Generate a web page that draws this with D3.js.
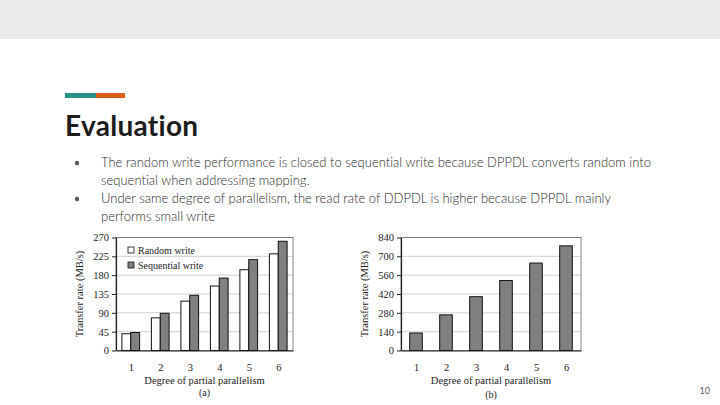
<!DOCTYPE html>
<html><head><meta charset="utf-8">
<script src="https://cdnjs.cloudflare.com/ajax/libs/d3/7.8.5/d3.min.js"></script>
<style>html,body{margin:0;padding:0;background:#fff;}svg{display:block;}text{font-variant-ligatures:none;}</style>
</head><body>
<svg id="s" width="720" height="405"></svg>
<script>
const bullets = [
  ["The random write performance is closed to sequential write because DPPDL converts random into", "sequential when addressing mapping."],
  ["Under same degree of parallelism, the read rate of DDPDL is higher because DPPDL mainly", "performs small write"]
];
const degrees = ["1","2","3","4","5","6"];
const randomWrite = [40, 78, 118, 154, 193, 231];
const sequentialWrite = [43, 89, 132, 173, 217, 261];
const readRate = [130, 265, 400, 520, 650, 778];
const ticksA = [0, 45, 90, 135, 180, 225, 270];
const ticksB = [0, 140, 280, 420, 560, 700, 840];
const seriesNames = ["Random write", "Sequential write"];

const svg = d3.select("#s");
svg.append("rect").attr("x",0).attr("y",0).attr("width",720).attr("height",39).attr("fill","#e8eaeb");
svg.append("rect").attr("x",65).attr("y",93).attr("width",31).attr("height",5).attr("fill","#2a9187");
svg.append("rect").attr("x",96).attr("y",93).attr("width",29).attr("height",5).attr("fill","#dc5f1c");
svg.append("text").attr("x",65).attr("y",136).text("Evaluation")
  .attr("font-family","Lato").attr("font-weight",700).attr("font-size",28).attr("letter-spacing",0.3).attr("fill","#1c1c1c");

const body = svg.append("g").attr("font-family","Lato").attr("font-weight",300).attr("font-size",13).attr("fill","#2a2a2a");
let ly = 167;
bullets.forEach(b => {
  body.append("circle").attr("cx",77).attr("cy",ly-4).attr("r",2.2).attr("fill","#555");
  b.forEach(line => { body.append("text").attr("x",101).attr("y",ly).text(line); ly += 18; });
});
svg.append("text").attr("x",710).attr("y",394).attr("text-anchor","end").text("10")
  .attr("font-family","Lato").attr("font-size",9).attr("fill","#555");

function chart(opt){
  const g = svg.append("g").attr("font-family","Liberation Serif").attr("fill","#222");
  const x = d3.scalePoint().domain(degrees).range([opt.x0, opt.x1]).padding(0.5);
  const y = d3.scaleLinear().domain([0, opt.ticks[opt.ticks.length-1]]).range([350.5, 237.5]);
  const step = x.step();
  g.append("g").selectAll("line").data(opt.ticks.slice(1)).join("line")
    .attr("x1",opt.x0).attr("x2",opt.x1).attr("y1",d=>y(d)).attr("y2",d=>y(d))
    .attr("stroke","#c4c4c4").attr("stroke-width",0.8);
  g.append("rect").attr("x",opt.x0).attr("y",y.range()[1]).attr("width",opt.x1-opt.x0).attr("height",y.range()[0]-y.range()[1])
    .attr("fill","none").attr("stroke","#666").attr("stroke-width",0.8);
  opt.series.forEach((s, si) => {
    g.append("g").selectAll("rect").data(s.values).join("rect")
      .attr("x",(d,i)=>x(degrees[i]) + (opt.series.length===1 ? -opt.bw*step/2 : (si-1)*opt.bw*step))
      .attr("y",d=>y(d)).attr("width",opt.bw*step).attr("height",d=>y(0)-y(d))
      .attr("fill",s.fill).attr("stroke","#111").attr("stroke-width",1);
  });
  const ya = d3.axisLeft(y).tickValues(opt.ticks).tickSize(4).tickSizeOuter(0).tickPadding(3);
  const ag = g.append("g").attr("transform",`translate(${opt.x0},0)`).call(ya);
  ag.select(".domain").attr("stroke","#222").attr("stroke-width",1.2);
  ag.selectAll(".tick line").attr("stroke","#222");
  ag.selectAll("text").attr("font-size",10.5).attr("font-family","Liberation Serif").attr("fill","#222");
  const xa = d3.axisBottom(x).tickSize(0).tickPadding(13);
  const xg = g.append("g").attr("transform","translate(0,350.5)").call(xa);
  xg.select(".domain").attr("stroke","#222").attr("stroke-width",1.2);
  xg.selectAll("text").attr("font-size",10.5).attr("font-family","Liberation Serif").attr("fill","#222");
  g.append("text").attr("transform",`translate(${opt.x0-33},294) rotate(-90)`).attr("text-anchor","middle")
    .attr("font-size",10.5).text("Transfer rate (MB/s)");
  g.append("text").attr("x",(opt.x0+opt.x1)/2).attr("y",384).attr("text-anchor","middle").attr("font-size",10.5).text("Degree of partial parallelism");
  g.append("text").attr("x",(opt.x0+opt.x1)/2).attr("y",opt.capY).attr("text-anchor","middle").attr("font-size",10).text(opt.cap);
  if (opt.legend) {
    opt.series.forEach((s, si) => {
      const ly = 250 + si*15;
      g.append("rect").attr("x",128).attr("y",ly-3).attr("width",6).attr("height",6).attr("fill",s.fill).attr("stroke","#111").attr("stroke-width",0.8);
      g.append("text").attr("x",138).attr("y",ly+3.5).attr("font-size",10).text(s.name);
    });
  }
}
chart({x0:116, x1:293, ticks:ticksA, bw:0.3, legend:true, cap:"(a)", capY:396,
  series:[{name:seriesNames[0], values:randomWrite, fill:"#ffffff"},{name:seriesNames[1], values:sequentialWrite, fill:"#808080"}]});
chart({x0:401, x1:581, ticks:ticksB, bw:0.42, legend:false, cap:"(b)", capY:398,
  series:[{name:"Read", values:readRate, fill:"#808080"}]});
</script>
</body></html>
